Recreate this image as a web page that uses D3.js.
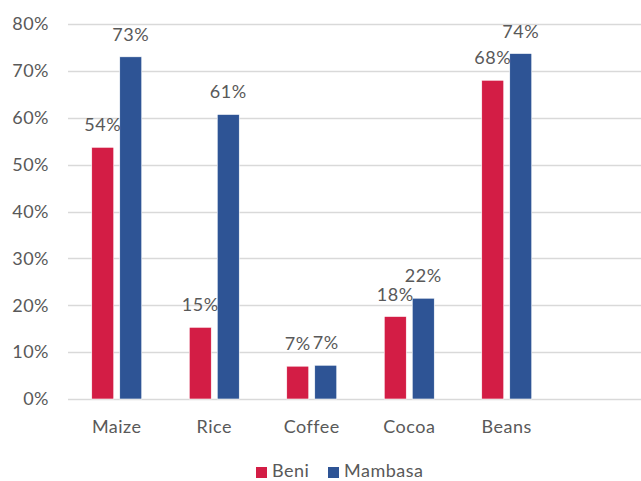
<!DOCTYPE html>
<html>
<head>
<meta charset="utf-8">
<script src="https://cdn.jsdelivr.net/npm/d3@7"></script>
<style>
  html, body { margin: 0; padding: 0; background: #fff; }
  svg { display: block; }
  text { font-family: Lato, "Liberation Sans", sans-serif; fill: #595959; letter-spacing: 0.5px; }
</style>
</head>
<body>
<svg id="chart" width="641" height="481"></svg>
<script>
// Crop shares by territory
const categories = ["Maize", "Rice", "Coffee", "Cocoa", "Beans"];
const seriesNames = ["Beni", "Mambasa"];
const beni = [53.7, 15.3, 7.0, 17.6, 68.0];
const mambasa = [73.0, 60.7, 7.2, 21.5, 73.7];
const beniLabels = ["54%", "15%", "7%", "18%", "68%"];
const mambasaLabels = ["73%", "61%", "7%", "22%", "74%"];
const yTicks = [0, 10, 20, 30, 40, 50, 60, 70, 80];
const colors = ["#D31D45", "#2E5495"];

const svg = d3.select("#chart");
const W = 641;
const plotLeft = 68, plotTop = 24, plotBottom = 399;
const step = 97.5;
const fontSize = 18;
const fontFamily = "Lato, 'Liberation Sans', sans-serif";

const y = d3.scaleLinear().domain([0, 80]).range([plotBottom, plotTop]);
const x0 = d3.scaleBand().domain(categories)
  .range([plotLeft, plotLeft + step * categories.length]).paddingInner(0).paddingOuter(0);
const x1 = d3.scaleBand().domain(seriesNames).range([0, 50]).paddingInner(0.2143);

// Gridlines
svg.append("g").selectAll("line").data(yTicks).join("line")
  .attr("x1", plotLeft).attr("x2", W)
  .attr("y1", d => Math.round(y(d)) + 0.5).attr("y2", d => Math.round(y(d)) + 0.5)
  .attr("stroke", "#D9D9D9").attr("stroke-width", 1.5);

// Y axis labels
const yAxis = d3.axisLeft(y).tickValues(yTicks).tickFormat(d => d + "%").tickSize(0).tickPadding(19);
const gy = svg.append("g").attr("transform", `translate(${plotLeft},0)`).call(yAxis);
gy.select(".domain").remove();
gy.selectAll("text").attr("font-size", fontSize).attr("fill", "#595959")
  .style("font-family", fontFamily);

// X axis labels
const xAxis = d3.axisBottom(x0).tickSize(0).tickPadding(0);
const gx = svg.append("g").attr("transform", `translate(0,${plotBottom})`).call(xAxis);
gx.select(".domain").remove();
gx.selectAll("text").attr("font-size", fontSize).attr("fill", "#595959")
  .attr("dy", null).attr("y", 34)
  .style("font-family", fontFamily);

// Bars
const rows = categories.map((c, i) => ({
  cat: c,
  vals: [
    { s: "Beni", v: beni[i], label: beniLabels[i] },
    { s: "Mambasa", v: mambasa[i], label: mambasaLabels[i] }
  ]
}));

const groups = svg.append("g").selectAll("g").data(rows).join("g")
  .attr("transform", d => `translate(${x0(d.cat) + x0.bandwidth() / 2 - 25},0)`);

groups.selectAll("rect").data(d => d.vals).join("rect")
  .attr("x", d => x1(d.s))
  .attr("width", x1.bandwidth())
  .attr("y", d => y(d.v))
  .attr("height", d => y(0) - y(d.v))
  .attr("fill", (d, i) => colors[i])
  .attr("stroke", "#ffffff").attr("stroke-width", 0.6);

groups.selectAll("text.val").data(d => d.vals).join("text")
  .attr("class", "val")
  .attr("x", d => x1(d.s) + x1.bandwidth() / 2)
  .attr("y", d => y(d.v) - 16)
  .attr("text-anchor", "middle")
  .attr("font-size", fontSize)
  .text(d => d.label);

// Legend
const legend = svg.append("g");
const legendItems = [{ name: "Beni", x: 256, c: colors[0] }, { name: "Mambasa", x: 328, c: colors[1] }];
legendItems.forEach(it => {
  legend.append("rect").attr("x", it.x).attr("y", 467).attr("width", 11).attr("height", 11).attr("fill", it.c);
  legend.append("text").attr("x", it.x + 16).attr("y", 477).attr("font-size", fontSize).text(it.name);
});
</script>
</body>
</html>
